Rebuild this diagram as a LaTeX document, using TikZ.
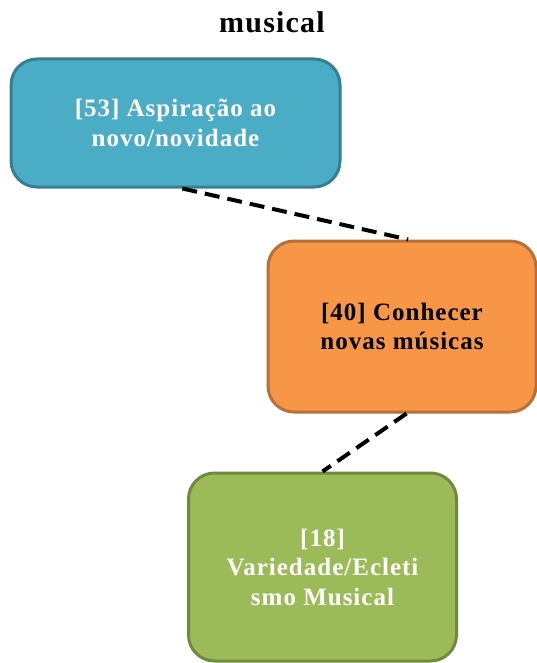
\documentclass[tikz,border=0pt]{standalone}
\usepackage{fontspec}
\setmainfont{Liberation Serif}[LetterSpace=4]
\usepackage{tikz}
\usetikzlibrary{positioning}
\definecolor{blueA}{HTML}{4BACC6}
\definecolor{blueB}{HTML}{357F93}
\definecolor{orangeA}{HTML}{F79646}
\definecolor{orangeB}{HTML}{B6703A}
\definecolor{greenA}{HTML}{9BBB59}
\definecolor{greenB}{HTML}{6F8A3D}

\begin{document}
\begin{tikzpicture}[x=1pt, y=-1pt]
\tikzstyle{every node} = [font=\fontsize{25}{29.5}\selectfont\bfseries, align=center]
\tikzstyle{box} = [rectangle, rounded corners=26pt, line width=3pt, inner sep=0pt]
\tikzstyle{link} = [line width=4pt, dash pattern=on 15pt off 8pt]
\useasboundingbox (0,0) rectangle (537,663);
\node (title) at (272,22) {\fontsize{30}{30}\selectfont musical};
\node[box, fill=blueA, draw=blueB, text=white, minimum width=329pt, minimum height=128pt] (aspir) at (175.5,123) {[53] Aspiração ao\\novo/novidade};
\node[box, fill=orangeA, draw=orangeB, text=black, minimum width=268pt, minimum height=171pt] (conhec) at (402,326.5) {[40] Conhecer\\novas músicas};
\node[box, fill=greenA, draw=greenB, text=white, minimum width=268pt, minimum height=188pt] (varied) at (322.5,567) {[18]\\Variedade/Ecleti\\smo Musical};
\draw[link] (aspir.-84) -- (conhec.86);
\draw[link] (conhec.-87) -- (varied.90);
\end{tikzpicture}
\end{document}
